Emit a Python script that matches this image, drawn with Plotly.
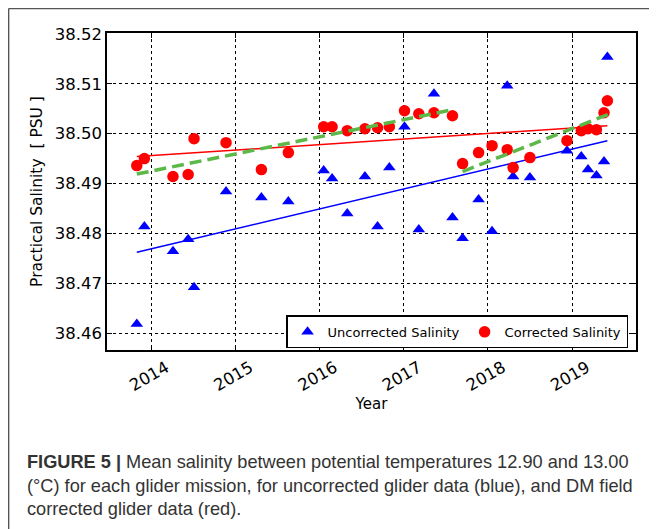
import plotly.graph_objects as go

# Mission times (decimal years) shared by both series
mission_year = [2013.83, 2013.92, 2014.26, 2014.44, 2014.51, 2014.89, 2015.31, 2015.63,
                2016.05, 2016.15, 2016.33, 2016.54, 2016.69, 2016.83, 2017.01, 2017.18,
                2017.36, 2017.58, 2017.70, 2017.89, 2018.05, 2018.23, 2018.30, 2018.50,
                2018.94, 2019.11, 2019.19, 2019.29, 2019.38, 2019.42]

uncorrected = [38.4618, 38.4814, 38.4764, 38.4788, 38.4692, 38.4884, 38.4872, 38.4864,
               38.4926, 38.4910, 38.4840, 38.4914, 38.4814, 38.4932, 38.5014, 38.4808,
               38.5080, 38.4832, 38.4790, 38.4868, 38.4804, 38.5096, 38.4914, 38.4912,
               38.4966, 38.4954, 38.4928, 38.4916, 38.4944, 38.5154]

corrected = [38.4936, 38.4950, 38.4914, 38.4918, 38.4990, 38.4982, 38.4928, 38.4962,
             38.5014, 38.5014, 38.5006, 38.5010, 38.5012, 38.5014, 38.5046, 38.5040,
             38.5042, 38.5036, 38.4940, 38.4962, 38.4976, 38.4968, 38.4932, 38.4952,
             38.4986, 38.5006, 38.5010, 38.5008, 38.5042, 38.5066]

# Trend lines
blue_trend_x = [2013.83, 2019.42]
blue_trend_y = [38.4762, 38.4986]
red_trend_x = [2013.83, 2019.42]
red_trend_y = [38.4954, 38.5016]
green_trend_x = [2013.83, 2017.55, None, 2017.70, 2019.48]
green_trend_y = [38.4919, 38.5047, None, 38.4924, 38.5042]

year_ticks = [2014, 2015, 2016, 2017, 2018, 2019]
year_labels = ["2014", "2015", "2016", "2017", "2018", "2019"]
sal_ticks = [38.46, 38.47, 38.48, 38.49, 38.50, 38.51, 38.52]
sal_labels = ["38.46", "38.47", "38.48", "38.49", "38.50", "38.51", "38.52"]

caption = ("<b>FIGURE 5 |</b> Mean salinity between potential temperatures 12.90 and 13.00"
           "<br>(°C) for each glider mission, for uncorrected glider data (blue), and DM field"
           "<br>corrected glider data (red).")

fig = go.Figure()
fig.add_trace(go.Scatter(x=blue_trend_x, y=blue_trend_y, mode="lines",
                         line=dict(color="#0000ff", width=1.5), showlegend=False, hoverinfo="skip"))
fig.add_trace(go.Scatter(x=red_trend_x, y=red_trend_y, mode="lines",
                         line=dict(color="#ff0000", width=1.5), showlegend=False, hoverinfo="skip"))
fig.add_trace(go.Scatter(x=mission_year, y=uncorrected, mode="markers", name="Uncorrected Salinity",
                         marker=dict(symbol="triangle-up", size=11, color="#0000ff", line=dict(width=0))))
fig.add_trace(go.Scatter(x=mission_year, y=corrected, mode="markers", name="Corrected Salinity",
                         marker=dict(symbol="circle", size=11.5, color="#ff0000", line=dict(width=0))))
fig.add_trace(go.Scatter(x=green_trend_x, y=green_trend_y, mode="lines",
                         line=dict(color="#5cb848", width=3.5, dash="12px,6px"),
                         showlegend=False, hoverinfo="skip", connectgaps=False))

axis_font = dict(family="DejaVu Sans", size=16.5, color="#000000")

# The page body adds an 8px offset, so the figure is 8px smaller than the window
fig.update_layout(
    width=649, height=521,
    margin=dict(l=99, r=21, t=25, b=179),
    paper_bgcolor="white", plot_bgcolor="white",
    font=dict(family="DejaVu Sans", color="#000000"),
    xaxis=dict(
        range=[2013.476, 2019.76],
        tickvals=year_ticks, ticktext=year_labels, tickangle=-30,
        tickfont=axis_font, ticks="inside", ticklen=5, tickcolor="black", tickwidth=1,
        showline=True, linecolor="black", linewidth=1.6, mirror="allticks",
        showgrid=True, gridcolor="black", gridwidth=1, griddash="dot",
        zeroline=False, ticklabelshift=15,
        title=dict(text="Year", font=dict(family="DejaVu Sans", size=15), standoff=5),
    ),
    yaxis=dict(
        range=[38.4566, 38.5202],
        tickvals=sal_ticks, ticktext=sal_labels,
        tickfont=axis_font, ticks="inside", ticklen=5, tickcolor="black", tickwidth=1,
        showline=True, linecolor="black", linewidth=1.6, mirror="allticks",
        showgrid=True, gridcolor="black", gridwidth=1, griddash="dot",
        zeroline=False,
        title=dict(text="Practical Salinity  [ PSU ]", font=dict(family="DejaVu Sans", size=15.5), standoff=8),
    ),
    legend=dict(
        orientation="h", x=0.985, xanchor="right", y=0.005, yanchor="bottom",
        bgcolor="white", bordercolor="black", borderwidth=1.5,
        font=dict(family="DejaVu Sans", size=13, color="#000000"),
    ),
    annotations=[dict(
        text=caption, xref="paper", yref="paper", x=-0.155, y=-0.316,
        xanchor="left", yanchor="top", align="left", showarrow=False,
        font=dict(family="Liberation Sans", size=18.2, color="#333333"),
    )],
    shapes=[
        dict(type="line", xref="paper", yref="paper", x0=-0.186, x1=1.2, y0=1.0773, y1=1.0773,
             line=dict(color="#555555", width=1.5)),
        dict(type="line", xref="paper", yref="paper", x0=-0.186, x1=-0.186, y0=1.0773, y1=-0.7,
             line=dict(color="#555555", width=1.5)),
    ],
)

fig.write_html("out.html")
